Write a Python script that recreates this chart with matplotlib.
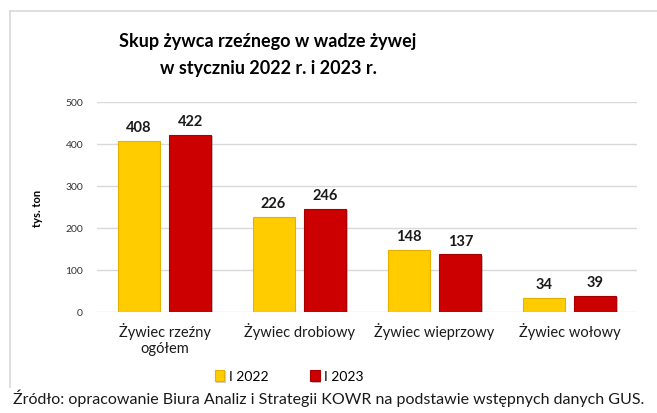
import matplotlib.pyplot as plt
import matplotlib.patheffects as pe
from matplotlib.lines import Line2D
import numpy as np

# dane
kategorie = ['Żywiec rzeźny\nogółem', 'Żywiec drobiowy', 'Żywiec wieprzowy', 'Żywiec wołowy']
rok_2022 = [408, 226, 148, 34]
rok_2023 = [422, 246, 137, 39]
etykiety_serii = ['I 2022', 'I 2023']
y_ticks = [0, 100, 200, 300, 400, 500]

plt.rcParams['font.family'] = ['Lato', 'DejaVu Sans']

fig = plt.figure(figsize=(6.57, 4.14), dpi=100)
fig.patch.set_facecolor('white')

# ramka wykresu (widoczna lewa i górna krawędź)
fig.add_artist(Line2D([10 / 657, 10 / 657], [1 - 388 / 414, 1 - 12 / 414],
                      transform=fig.transFigure, color='#D9D9D9', lw=1.2))
fig.add_artist(Line2D([10 / 657, 1.0], [1 - 12 / 414, 1 - 12 / 414],
                      transform=fig.transFigure, color='#D9D9D9', lw=1.2))

ax = fig.add_axes([97 / 657, 1 - 313 / 414, 540 / 657, 210 / 414])

x = np.arange(len(kategorie))
w = 0.31
shadow = [pe.withSimplePatchShadow(offset=(1.2, -1.2), alpha=0.25)]
b1 = ax.bar(x - w / 2 - 0.037, rok_2022, w, color='#FFCC00', edgecolor='#E6B000',
            linewidth=0.8, label=etykiety_serii[0], path_effects=shadow, zorder=3)
b2 = ax.bar(x + w / 2 + 0.037, rok_2023, w, color='#CC0000', edgecolor='#A80000',
            linewidth=0.8, label=etykiety_serii[1], path_effects=shadow, zorder=3)

for bars in (b1, b2):
    for rect in bars:
        h = rect.get_height()
        ax.annotate(f'{h:.0f}', (rect.get_x() + rect.get_width() / 2, h),
                    xytext=(0, 5), textcoords='offset points', ha='center', va='bottom',
                    fontsize=10.5, fontweight='bold', color='#1a1a1a')

ax.set_xlim(-0.5, len(kategorie) - 0.5)
ax.set_ylim(0, 500)
ax.set_yticks(y_ticks)
ax.tick_params(axis='y', length=0, labelsize=7.5, labelcolor='#333333', pad=10)
ax.tick_params(axis='x', length=0, labelsize=10.5, labelcolor='#1a1a1a', pad=7)
ax.set_xticks(x)
ax.set_xticklabels(kategorie)
ax.yaxis.grid(True, color='#D9D9D9', lw=1)
ax.set_axisbelow(True)
for s in ax.spines.values():
    s.set_visible(False)

ax.set_ylabel('tys. ton', fontsize=8, fontweight='bold', labelpad=16)

fig.text(268 / 657, 1 - 55 / 414, 'Skup żywca rzeźnego w wadze żywej\nw styczniu 2022 r. i 2023 r.',
         ha='center', va='center', fontsize=13, fontweight='bold', linespacing=1.75)

fig.legend(handles=[b1, b2], labels=etykiety_serii, loc='center',
           bbox_to_anchor=(289 / 657, 1 - 377 / 414), ncol=2, frameon=False,
           fontsize=10, handlelength=0.7, handleheight=0.9, handletextpad=0.3,
           columnspacing=3.0)

fig.text(329 / 657, 1 - 398 / 414,
         'Źródło: opracowanie Biura Analiz i Strategii KOWR na podstawie wstępnych danych GUS.',
         ha='center', va='center', fontsize=11.5, color='#1a1a1a')

fig.savefig('out.png', dpi=100)
